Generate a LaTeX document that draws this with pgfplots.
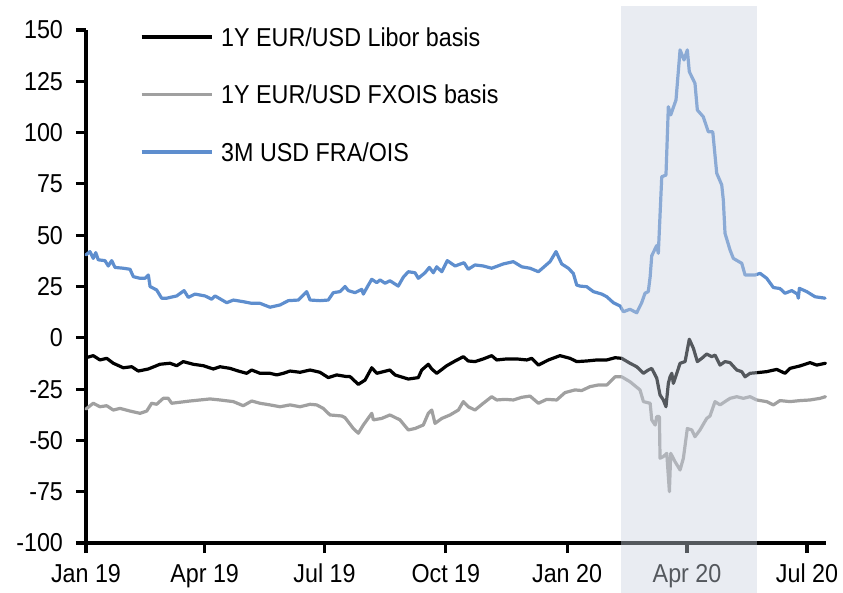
\documentclass[border=0pt]{standalone}
\usepackage{pgfplots}
\pgfplotsset{compat=1.18}
\usepackage{fontspec}
\setmainfont{Liberation Sans}[FakeStretch=0.9]
\definecolor{cblue}{RGB}{94,142,206}
\definecolor{cgray}{RGB}{160,160,160}
\definecolor{shadecol}{RGB}{202,210,224}
\begin{document}
\begin{tikzpicture}
\begin{axis}[
  scale only axis, width=370bp, height=256.5bp,
  xmin=0, xmax=561.4, ymin=-100, ymax=150,
  axis x line=bottom, axis y line=left,
  axis line style={-, line width=1.6bp, black},
  tick style={line width=1.6bp, black},
  tick align=outside, major tick length=5bp,
  xtick={0,90,181,273,365,456,547},
  xticklabels={Jan 19,Apr 19,Jul 19,Oct 19,Jan 20,Apr 20,Jul 20},
  ytick={-100,-75,...,150},
  /pgf/number format/assume math mode=true,
  tick label style={font=\fontsize{13}{15}\selectfont},
  yticklabel style={xshift=-3bp},
  xticklabel style={yshift=-2bp},
  every axis plot/.append style={line join=round, line cap=round},
  legend cell align=left,
  legend image code/.code={\draw[#1, line cap=butt] (0bp,0bp) -- (35bp,0bp);},
  legend style={draw=none, fill=none, inner sep=0pt, outer sep=0pt,
    at={(axis description cs:0.073,1)}, anchor=north west, yshift=1.25bp,
    font=\fontsize{13}{15}\selectfont,
    nodes={inner sep=0pt, text height=9.5bp, text depth=0pt},
    row sep=19.25bp,
    /tikz/every odd column/.append style={column sep=4bp}},
  clip=false,
]
\addplot[black, line width=1.6bp] coordinates {
(0,-9.7)(5.5,-8.7)(10.6,-10.8)(15.7,-10)(20.7,-12.4)(28.3,-14.6)(34.7,-14.1)(39.7,-16.2)(47.3,-15.2)(56.1,-12.9)(63.7,-12.4)(68.8,-13.6)(73.8,-11.6)(81.4,-12.9)(89,-13.6)(96.6,-15.2)(101.7,-14.1)(109.3,-14.9)(115.6,-16.2)(121.9,-17.3)(125.7,-15.7)(132,-17.3)(139.6,-17.3)(144.7,-18.1)(149.7,-17.3)(154.8,-16.2)(162.4,-16.8)(170,-15.7)(177.5,-16.8)(183.8,-19.4)(190.2,-18.1)(197.8,-18.9)(200.3,-18.9)(206.6,-22.7)(211.7,-20.6)(216.8,-14.6)(220.6,-17.3)(225.6,-16.5)(230.6,-15.7)(234.4,-18.1)(244.5,-20.1)(252.1,-19.4)(254.7,-15.7)(259.7,-12.9)(262.3,-15.2)(266.1,-17.3)(273.7,-13.6)(280,-11.3)(286.3,-9.2)(290,-11.3)(295.1,-11.6)(301.4,-10.3)(307.8,-8.7)(311.6,-10.8)(319.2,-10.3)(326.8,-10.3)(334.4,-10.8)(338.2,-10)(343.2,-13.3)(350.8,-10.8)(359.6,-8.7)(367.2,-10)(372.3,-11.6)(379.9,-11.3)(387.5,-10.8)(395.1,-10.8)(401.4,-9.7)(406.4,-10)(412.7,-12.4)(417.8,-14.1)(422.9,-17.3)(426.6,-15.7)(429.2,-14.9)(433,-19.7)(435.5,-27.9)(438,-30.3)(440,-33.6)(441.8,-22.2)(443.1,-19)(444.4,-17.3)(445.6,-22.2)(448.2,-17.3)(450.7,-12.4)(454.5,-11.6)(457.7,-0.7)(460.8,-5.1)(463.8,-11.6)(467.2,-10)(470.9,-7.9)(474.7,-9.2)(477.2,-8.4)(481,-13.3)(484.8,-11.6)(488.6,-12.1)(493.7,-15.7)(497.5,-16.5)(500,-19)(503.8,-17.3)(508.9,-17)(516.4,-16.5)(524,-15.4)(530.3,-17.3)(534.1,-14.9)(541.7,-13.7)(549.3,-12.1)(554.4,-13.3)(561,-12.4)
};
\addlegendentry{1Y EUR/USD Libor basis}
\addplot[cgray, line width=1.6bp] coordinates {
(0,-34.7)(5.5,-31.9)(10.6,-33.6)(15.7,-33.1)(20.7,-35.2)(25.8,-34.4)(33.4,-35.7)(41,-36.8)(46.1,-35.7)(49.8,-31.9)(53.6,-32.4)(58.6,-29.5)(62.4,-29.5)(65,-31.9)(71.3,-31.4)(78.9,-30.8)(86.5,-30.3)(94.1,-29.8)(101.7,-30.3)(111.8,-31.1)(119.3,-33.1)(125.7,-30.8)(132,-31.9)(139.6,-32.7)(147.2,-33.6)(154.8,-32.7)(162.4,-33.6)(170,-32.4)(175,-32.7)(180,-34.4)(185.1,-37.6)(194,-38.1)(196.5,-38.9)(202.8,-44.2)(206.6,-46.5)(210.4,-42.5)(216.8,-36.8)(218,-40)(224.3,-39.3)(230.6,-37.6)(238.2,-40)(244.5,-44.9)(249.6,-44.2)(255.9,-42.5)(259.7,-36.8)(262.3,-35.2)(264.8,-41.7)(269.9,-39.3)(276.2,-37.6)(282.5,-35.2)(286.3,-31.1)(290,-33.6)(295.1,-35.2)(301.4,-31.9)(307.8,-28.7)(311.6,-30.3)(317.9,-30)(324.2,-30.3)(330.6,-29)(336.9,-28.4)(343.2,-31.9)(349.5,-30)(357.1,-30.3)(363.4,-26.7)(371,-25.4)(376.1,-25.7)(382.4,-23.8)(388.7,-23)(395.1,-23)(401.4,-19)(406.4,-19)(412.7,-21.4)(420.3,-25.4)(422.9,-31.1)(428,-31.9)(429.2,-40)(431.8,-42.5)(433,-38.4)(435,-38.4)(435.5,-58.7)(438,-57.9)(440.6,-56.3)(442.6,-75)(443.6,-56.3)(446.9,-60.4)(450.7,-64.4)(453.2,-58.7)(456.2,-44.2)(459.6,-44.9)(462,-48.2)(465.8,-44.9)(470.9,-39.3)(473.4,-38.1)(477.2,-31.1)(481,-32.7)(484.8,-31.1)(488.6,-29.5)(493.7,-28.7)(498.7,-29.5)(503.8,-28.7)(508.9,-30.3)(516.4,-31.1)(521.5,-32.7)(526.5,-30.6)(534.1,-31.1)(541.7,-30.6)(549.3,-30.3)(556.9,-29.5)(561,-28.7)
};
\addlegendentry{1Y EUR/USD FXOIS basis}
\addplot[cblue, line width=1.6bp] coordinates {
(0,40.4)(3,42)(5.5,38.7)(7.4,41.5)(9.3,38)(14.4,37.6)(16.9,35)(19.5,37.6)(22,34.3)(28.3,33.9)(33.4,33.4)(35.9,29.8)(41,29)(44.8,29)(47.3,30.6)(48.6,25)(53.6,23.3)(57.4,19.3)(61.2,19.3)(68.8,20.4)(74.4,23)(77.6,19.7)(82.7,21.3)(90.3,20.4)(95.4,18.8)(97.9,20.4)(106.8,17.1)(111.8,18.4)(119.3,17.6)(125.7,16.8)(132,16.8)(139.6,14.9)(147.2,16)(153.5,18.1)(161.1,18.4)(167.4,22.5)(170,18.4)(177.5,18.1)(183.8,18.4)(187.6,22)(192.7,22.5)(196.5,25)(199,23)(204.1,22)(209.2,23.6)(210.4,21.3)(214.2,25.7)(216.8,28.5)(220.6,26.9)(223.1,28.2)(226.9,26.6)(230.6,27.8)(236.9,25.2)(240.7,29.5)(244.5,32.2)(249.6,31.7)(252.1,29)(257.2,31.7)(260.5,34.3)(263.5,31.7)(266.1,34.6)(269.9,32.2)(274.1,37.6)(280,35)(286.8,36.6)(290,33.4)(295.1,35.5)(301.4,35)(307.8,33.9)(316.6,36)(324.2,37.1)(330.6,34.6)(336.9,33.9)(343.2,32.2)(347,34.3)(352,37.1)(356.6,42)(360.9,36)(365.9,33.9)(369.7,31.4)(372.3,25.7)(374.8,25.2)(379.9,24.9)(384.9,22.5)(391.3,21.3)(395.1,20)(400.1,17.1)(405.2,15.5)(407.7,12.7)(412.7,13.9)(417.8,12.2)(421.5,17)(424.1,21.7)(426.6,22.5)(428,29.8)(429.2,40)(433,45)(434.2,41.2)(436.8,78.5)(440,79.3)(441.8,112.6)(443.6,108.6)(447.6,115.9)(450.7,140.3)(453.7,135.4)(456.2,140.3)(457.7,129.7)(462,124)(463.8,111)(468.3,107.7)(472.1,100.4)(475.5,100.4)(478.5,80.2)(482.3,74.5)(483.5,67.2)(484.8,50.9)(488.6,42.8)(491.1,38.7)(497.5,36.3)(500,30.6)(507.6,30.6)(511.4,31.4)(516.4,29)(521.5,24.5)(526.5,24)(530.3,21.7)(535.4,23)(539.7,21.3)(540.4,19.3)(541.2,24.1)(546.8,22.5)(553.1,20)(560.7,19.3)
};
\addlegendentry{3M USD FRA/OIS}
\coordinate (sw) at (axis cs:0,-100);
\coordinate (s1) at (axis cs:406,-100);
\coordinate (s2) at (axis cs:509,-100);
\end{axis}
\fill[shadecol, fill opacity=0.42] ([yshift=-25bp]s1) rectangle ([yshift=268.5bp]s2);
\pgfresetboundingbox
\useasboundingbox ([shift={(-43bp,-25bp)}]sw) rectangle ([shift={(378.5bp,271.5bp)}]sw);
\end{tikzpicture}
\end{document}
